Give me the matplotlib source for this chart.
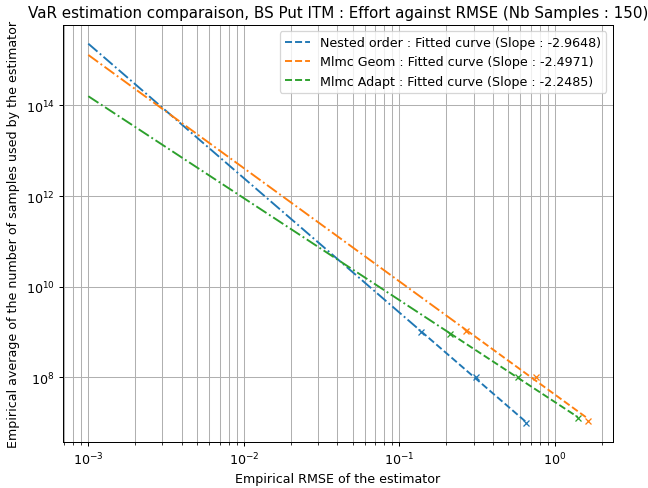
import numpy as np
import matplotlib
matplotlib.use('Agg')
import matplotlib.pyplot as plt
from matplotlib.ticker import LogLocator, NullLocator

# RMSE / effort
names = ['Nested order', 'Mlmc Geom', 'Mlmc Adapt']
slopes = [-2.9648, -2.4971, -2.2485]
rmse_nested = [0.138, 0.310, 0.656]
effort_nested = [1.0e9, 1.0e8, 1.0e7]
rmse_geom = [0.270, 0.760, 1.626]
effort_geom = [1.03e9, 1.0e8, 1.1e7]
rmse_adapt = [0.212, 0.579, 1.403]
effort_adapt = [9.2e8, 1.03e8, 1.29e7]
rmse_min = 1e-3

series = [(rmse_nested, effort_nested), (rmse_geom, effort_geom), (rmse_adapt, effort_adapt)]
colors = ['C0', 'C1', 'C2']

DPI = 91
fig, ax = plt.subplots(figsize=(648 / DPI, 489 / DPI), dpi=DPI)
fig.subplots_adjust(left=0.0977, right=0.9455, top=0.9474, bottom=0.0947)

for name, slope, (x, y), c in zip(names, slopes, series, colors):
    lx = np.log10(x)
    ly = np.log10(y)
    icpt = np.mean(ly - slope * lx)
    xfit = np.array([min(x), max(x)])
    ax.plot(xfit, 10 ** (icpt + slope * np.log10(xfit)), '--', color=c,
            label=f'{name} : Fitted curve (Slope : {slope})')
    xext = np.array([rmse_min, min(x)])
    ax.plot(xext, 10 ** (icpt + slope * np.log10(xext)), '-.', color=c)
    ax.plot(x, y, 'x', color=c, markersize=5)

ax.set_xscale('log')
ax.set_yscale('log')
ax.yaxis.set_major_locator(LogLocator(base=10, numticks=5))
ax.yaxis.set_minor_locator(NullLocator())
ax.grid(True, which='both')
ax.legend(loc='upper right')
ax.set_xlabel('Empirical RMSE of the estimator')
ax.set_ylabel('Empirical average of the number of samples used by the estimator')
ax.set_title('VaR estimation comparaison, BS Put ITM : Effort against RMSE (Nb Samples : 150)')

plt.savefig('out.png', dpi=DPI)
